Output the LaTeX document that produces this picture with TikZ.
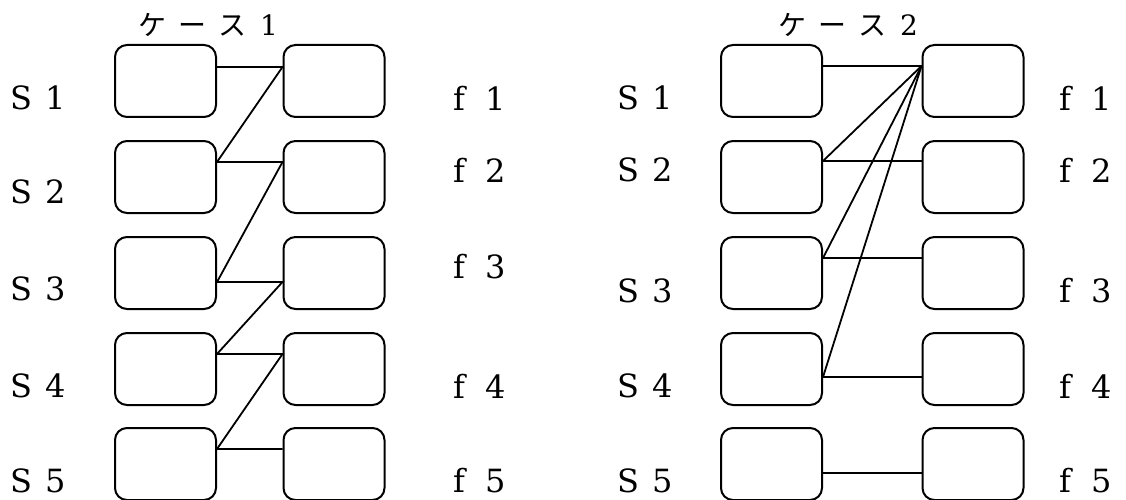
\documentclass[tikz,border=0pt]{standalone}
\usepackage{fontspec}
\setmainfont{DejaVu Serif}
\newfontfamily\jpfont{Noto Sans CJK JP}
\usetikzlibrary{calc}

\newcommand{\slab}[1]{S\kern13pt#1}
\newcommand{\flab}[1]{f\kern20pt#1}
\newcommand{\casetitle}[1]{{\jpfont ケ\kern12ptー\kern12ptス}\kern14pt#1}

\begin{document}
\begin{tikzpicture}[
  x=1pt,y=-1pt,
  font=\fontsize{32}{34}\selectfont,
  box/.style={draw,line width=2pt,rounded corners=12pt,minimum width=101pt,minimum height=72pt,inner sep=0pt},
  lab/.style={anchor=west,inner sep=0pt},
  link/.style={line width=1.8pt}
]
  \useasboundingbox (0,0) rectangle (1126,500);

  % titles
  \node[lab,font=\fontsize{28}{30}\selectfont] (T1) at (138,25) {\casetitle{1}};
  \node[lab,font=\fontsize{28}{30}\selectfont] (T2) at (778,25) {\casetitle{2}};

  % case 1 boxes
  \node[box] (aL1) at (165.5,81) {};
  \node[box] (aL2) at (165.5,177) {};
  \node[box] (aL3) at (165.5,273) {};
  \node[box] (aL4) at (165.5,369) {};
  \node[box] (aL5) at (165.5,464) {};
  \node[box] (aR1) at (334,81) {};
  \node[box] (aR2) at (334,177) {};
  \node[box] (aR3) at (334,273) {};
  \node[box] (aR4) at (334,369) {};
  \node[box] (aR5) at (334,464) {};

  % case 2 boxes
  \node[box] (bL1) at (771.5,81) {};
  \node[box] (bL2) at (771.5,177) {};
  \node[box] (bL3) at (771.5,273) {};
  \node[box] (bL4) at (771.5,369) {};
  \node[box] (bL5) at (771.5,464) {};
  \node[box] (bR1) at (973,81) {};
  \node[box] (bR2) at (973,177) {};
  \node[box] (bR3) at (973,273) {};
  \node[box] (bR4) at (973,369) {};
  \node[box] (bR5) at (973,464) {};

  % labels
  \node[lab] (aS1) at (10,98) {\slab{1}};
  \node[lab] (aS2) at (10,192) {\slab{2}};
  \node[lab] (aS3) at (10,289) {\slab{3}};
  \node[lab] (aS4) at (10,386) {\slab{4}};
  \node[lab] (aS5) at (10,481) {\slab{5}};
  \node[lab] (af1) at (453,98) {\flab{1}};
  \node[lab] (af2) at (453,170) {\flab{2}};
  \node[lab] (af3) at (453,267) {\flab{3}};
  \node[lab] (af4) at (453,386) {\flab{4}};
  \node[lab] (af5) at (453,481) {\flab{5}};
  \node[lab] (bS1) at (617,98) {\slab{1}};
  \node[lab] (bS2) at (617,170) {\slab{2}};
  \node[lab] (bS3) at (617,291) {\slab{3}};
  \node[lab] (bS4) at (617,386) {\slab{4}};
  \node[lab] (bS5) at (617,481) {\slab{5}};
  \node[lab] (bf1) at (1059,98) {\flab{1}};
  \node[lab] (bf2) at (1059,170) {\flab{2}};
  \node[lab] (bf3) at (1059,291) {\flab{3}};
  \node[lab] (bf4) at (1059,386) {\flab{4}};
  \node[lab] (bf5) at (1059,481) {\flab{5}};

  % case 1 links
  \coordinate (aL1p) at ($(aL1.north east)+(0,23)$);
  \coordinate (aL2p) at ($(aL2.north east)+(0,22)$);
  \coordinate (aL3p) at ($(aL3.north east)+(0,46)$);
  \coordinate (aL4p) at ($(aL4.north east)+(0,22)$);
  \coordinate (aL5p) at ($(aL5.north east)+(0,22)$);
  \coordinate (aR1p) at ($(aR1.north west)+(0,23)$);
  \coordinate (aR2p) at ($(aR2.north west)+(0,22)$);
  \coordinate (aR3p) at ($(aR3.north west)+(0,46)$);
  \coordinate (aR4p) at ($(aR4.north west)+(0,22)$);
  \coordinate (aR5p) at ($(aR5.north west)+(0,22)$);
  \draw[link] (aL1p) -- (aR1p) -- (aL2p) -- (aR2p) -- (aL3p) -- (aR3p)
    -- (aL4p) -- (aR4p) -- (aL5p) -- (aR5p);

  % case 2 links
  \coordinate (bL1p) at ($(bL1.north east)+(0,22)$);
  \coordinate (bL2p) at ($(bL2.north east)+(0,21)$);
  \coordinate (bL3p) at ($(bL3.north east)+(0,22)$);
  \coordinate (bL4p) at ($(bL4.north east)+(0,45)$);
  \coordinate (bL5p) at ($(bL5.north east)+(0,46)$);
  \coordinate (bR1p) at ($(bR1.north west)+(0,22)$);
  \coordinate (bR2p) at ($(bR2.north west)+(0,21)$);
  \coordinate (bR3p) at ($(bR3.north west)+(0,22)$);
  \coordinate (bR4p) at ($(bR4.north west)+(0,45)$);
  \coordinate (bR5p) at ($(bR5.north west)+(0,46)$);
  \draw[link] (bL1p) -- (bR1p);
  \draw[link] (bL2p) -- (bR1p);
  \draw[link] (bL3p) -- (bR1p);
  \draw[link] (bL4p) -- (bR1p);
  \draw[link] (bL2p) -- (bR2p);
  \draw[link] (bL3p) -- (bR3p);
  \draw[link] (bL4p) -- (bR4p);
  \draw[link] (bL5p) -- (bR5p);
\end{tikzpicture}
\end{document}
